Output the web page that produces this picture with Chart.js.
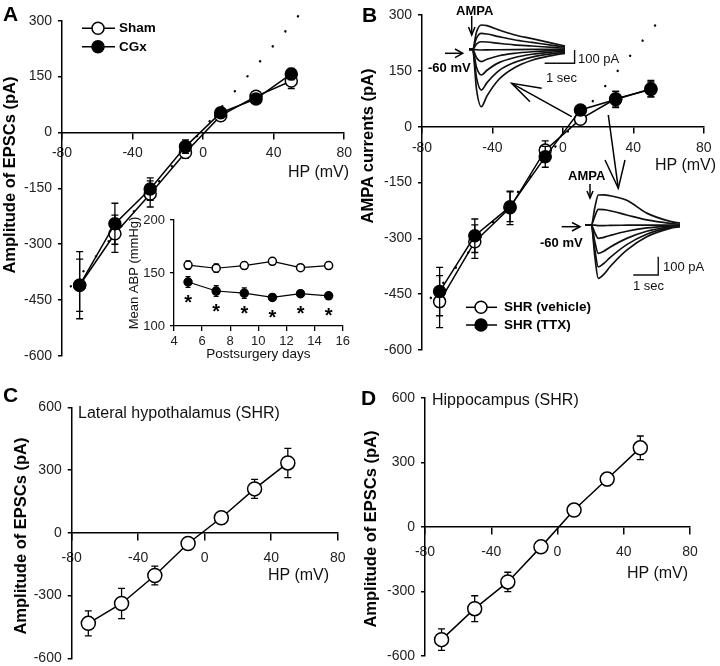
<!DOCTYPE html>
<html><head><meta charset="utf-8">
<script src="https://cdn.jsdelivr.net/npm/chart.js@4/dist/chart.umd.min.js"></script>
<style>
html,body{margin:0;padding:0;background:#fff;}
#root{position:relative;width:720px;height:666px;overflow:hidden;font-family:"Liberation Sans",Arial,sans-serif;background:#fff;}
canvas{position:absolute;}
.t{position:absolute;white-space:nowrap;color:#111;line-height:1;transform:translateY(-50%);}
.b{font-weight:bold;color:#000;}
.yt{position:absolute;white-space:nowrap;color:#000;font-weight:bold;font-size:16.5px;line-height:1;transform:translate(-50%,-50%) rotate(-90deg);}
svg.ov{position:absolute;left:0;top:0;pointer-events:none;}
</style>
</head><body>
<div id="root">
<canvas id="cA" width="360" height="400" style="left:0;top:0"></canvas>
<canvas id="cInset" width="240" height="165" style="left:120px;top:205px"></canvas>
<canvas id="cB" width="360" height="400" style="left:360px;top:0"></canvas>
<canvas id="cTop" width="132" height="93" style="left:454px;top:19px"></canvas>
<canvas id="cBot" width="128" height="101" style="left:572px;top:183px"></canvas>
<canvas id="cC" width="360" height="290" style="left:0;top:390px"></canvas>
<canvas id="cD" width="360" height="300" style="left:360px;top:380px"></canvas>

<svg class="ov" width="720" height="666">
 <g stroke="#000" stroke-width="1.5" fill="none">
  <line x1="82" y1="28.3" x2="115" y2="28.3"/>
  <circle cx="98" cy="28.3" r="6" fill="#fff"/>
  <line x1="82" y1="46.7" x2="115" y2="46.7"/>
  <circle cx="98" cy="46.7" r="6" fill="#000"/>
  <line x1="466" y1="307.3" x2="497" y2="307.3"/>
  <circle cx="481" cy="307.3" r="6" fill="#fff"/>
  <line x1="466" y1="325" x2="497" y2="325"/>
  <circle cx="481" cy="325" r="6" fill="#000"/>
  <polyline points="541.7,88.3 511.7,83.3 530,101.7"/>
  <line x1="511.7" y1="83.3" x2="571.7" y2="116.7"/>
  <polyline points="605,160 618.3,188.3 625,160"/>
  <line x1="608.3" y1="115" x2="618.3" y2="188.3"/>
  <line x1="445" y1="53.3" x2="462.7" y2="53.3"/>
  <polyline points="455,49 462.7,53.3 455,57.6"/>
  <line x1="561.7" y1="226.7" x2="580" y2="226.7"/>
  <polyline points="572,222.5 580,226.7 572,231"/>
  <line x1="471.7" y1="16" x2="471.7" y2="35"/>
  <polyline points="468.5,27 471.7,35 475,27"/>
  <line x1="590" y1="184" x2="590" y2="198"/>
  <polyline points="587,191 590,198 593,191"/>
 </g>
</svg>

<div class="t b" style="left:3px;top:13px;font-size:21px">A</div>
<div class="t b" style="left:362px;top:14px;font-size:21px">B</div>
<div class="t b" style="left:3px;top:394px;font-size:21px">C</div>
<div class="t b" style="left:361px;top:397px;font-size:21px">D</div>
<div class="yt" style="left:9px;top:174.5px">Amplitude of EPSCs (pA)</div>
<div class="yt" style="left:367px;top:145.5px">AMPA currents (pA)</div>
<div class="yt" style="left:19.5px;top:536px">Amplitude of EPSCs (pA)</div>
<div class="yt" style="left:370px;top:529px">Amplitude of EPSCs (pA)</div>
<div class="t" style="left:288px;top:172px;font-size:16px">HP (mV)</div>
<div class="t" style="left:655px;top:165px;font-size:16px">HP (mV)</div>
<div class="t" style="left:268px;top:575px;font-size:16px">HP (mV)</div>
<div class="t" style="left:627px;top:573px;font-size:16px">HP (mV)</div>
<div class="t" style="left:78px;top:413px;font-size:16px">Lateral hypothalamus (SHR)</div>
<div class="t" style="left:432px;top:400px;font-size:16px">Hippocampus (SHR)</div>
<div class="t b" style="left:119px;top:28px;font-size:13.5px">Sham</div>
<div class="t b" style="left:119px;top:47px;font-size:13.5px">CGx</div>
<div class="t b" style="left:504px;top:307px;font-size:13.5px">SHR (vehicle)</div>
<div class="t b" style="left:504px;top:325px;font-size:13.5px">SHR (TTX)</div>
<div class="t b" style="left:456px;top:10px;font-size:13px">AMPA</div>
<div class="t b" style="left:428px;top:67px;font-size:13px">-60 mV</div>
<div class="t" style="left:578px;top:58px;font-size:13px">100 pA</div>
<div class="t" style="left:546px;top:77px;font-size:13px">1 sec</div>
<div class="t b" style="left:568px;top:175px;font-size:13px">AMPA</div>
<div class="t b" style="left:540px;top:242px;font-size:13px">-60 mV</div>
<div class="t" style="left:663px;top:266px;font-size:13px">100 pA</div>
<div class="t" style="left:633px;top:285px;font-size:13px">1 sec</div>
</div>

<script>
// ---------- DATA ----------
const hpMv = [-70, -50, -30, -10, 10, 30, 50];
const xTicksMv = [-80, -40, 0, 40, 80];

// Panel A
const shamA = [-410, -272, -165, -54, 45, 97, 138];
const shamAErr = [70, 50, 35, 15, 8, 10, 20];
const cgxA = [-410, -245, -152, -38, 53, 90, 157];
const cgxAErr = [90, 55, 30, 18, 8, 12, 15];
const fitAX = [-75, 54];
const fitAY = [-413, 313];

// Panel A inset
const daysPost = [5, 7, 9, 11, 13, 15];
const shamABP = [157.5, 154.5, 157, 161, 155, 157];
const shamABPErr = [4, 4, 3, 3, 2, 3];
const cgxABP = [141.5, 133, 131, 127, 130.5, 128.5];
const cgxABPErr = [5, 5, 5, 3, 3, 2];

// Panel B
const vehicleB = [-470, -309, -218, -63, 20, 75, 100];
const vehicleBErr = [70, 45, 45, 25, 10, 20, 20];
const ttxB = [-443, -293, -215, -81, 45, 73, 102];
const ttxBErr = [65, 45, 40, 28, 10, 22, 22];
const fitBX = [-75, 55];
const fitBY = [-460, 287];

// Panel B traces (time in s, current in pA)
const topTimes = [0, 0.12, 0.25, 0.41, 0.6, 1.0, 1.5, 2.1, 2.8, 3.2];
const topTrace1 = [0, 0, -300, -431, -350, -225, -140, -82, -45, -30];
const topTrace2 = [0, 0, -213, -306, -250, -160, -100, -58, -32, -21];
const topTrace3 = [0, 0, -135, -193, -157, -100, -63, -37, -20, -13];
const topTrace4 = [0, 0, -64, -92, -75, -48, -30, -18, -10, -6];
const topTrace5 = [0, 0, -3, -5, -4, -3, -2, -1, 0, 0];
const topTrace6 = [0, 0, 40, 57, 55, 45, 34, 25, 14, 8];
const topTrace7 = [0, 0, 85, 120, 115, 95, 72, 52, 30, 16];
const topTrace8 = [0, 0, 130, 183, 178, 145, 110, 80, 45, 25];
const topBarT = [2.52, 3.52, 3.52];
const topBarPA = [-105, -105, -5];

const botTimes = [0, 0.25, 0.4, 0.53, 0.75, 1.0, 1.67, 2.47, 3.4, 3.8];
const botTrace1 = [0, 0, -180, -291, -270, -228, -137, -64, -18, -9];
const botTrace2 = [0, 0, -140, -228, -210, -178, -107, -50, -14, -7];
const botTrace3 = [0, 0, -95, -155, -143, -121, -73, -34, -10, -5];
const botTrace4 = [0, 0, -45, -73, -67, -57, -34, -16, -5, -2];
const botTrace5 = [0, 0, 0, -3, -3, -2, -1, 0, 0, 0];
const botTrace6 = [0, 0, 50, 85, 84, 78, 55, 28, 9, 4];
const botTrace7 = [0, 0, 100, 164, 165, 160, 135, 65, 20, 10];
const botBarT = [1.93, 2.93, 2.93];
const botBarPA = [-273, -273, -173];

// Panel C
const lateralC = [-433, -338, -204, -51, 72, 210, 334];
const lateralCErr = [60, 72, 45, 12, 10, 45, 70];
// Panel D
const hippoD = [-524, -380, -256, -93, 78, 222, 367];
const hippoDErr = [50, 60, 45, 15, 15, 30, 55];

// ---------- HELPERS ----------
const FONT = "'Liberation Sans', Arial, sans-serif";
const pts = (xs, ys) => xs.map((x, i) => ({x: x, y: ys[i]}));

const errorBars = {
  id: 'errorBars',
  beforeDatasetDraw(chart, args) {
    const ds = chart.data.datasets[args.index];
    if (!ds.errorBars) return;
    const ys = chart.scales.y;
    const ctx = chart.ctx;
    const cap = ds.capHalf || 3.5;
    ctx.save();
    ctx.strokeStyle = '#000';
    ctx.lineWidth = 1.3;
    args.meta.data.forEach((p, i) => {
      const v = ds.data[i].y, e = ds.errorBars[i];
      const y1 = ys.getPixelForValue(v - e), y2 = ys.getPixelForValue(v + e);
      ctx.beginPath();
      ctx.moveTo(p.x, y1); ctx.lineTo(p.x, y2);
      ctx.moveTo(p.x - cap, y1); ctx.lineTo(p.x + cap, y1);
      ctx.moveTo(p.x - cap, y2); ctx.lineTo(p.x + cap, y2);
      ctx.stroke();
    });
    ctx.restore();
  }
};

const asterisks = {
  id: 'asterisks',
  afterDatasetsDraw(chart) {
    const idx = chart.data.datasets.findIndex(d => d.starBelow);
    if (idx < 0) return;
    const ctx = chart.ctx;
    ctx.save();
    ctx.fillStyle = '#000';
    ctx.font = 'bold 20px ' + FONT;
    ctx.textAlign = 'center';
    ctx.textBaseline = 'alphabetic';
    chart.getDatasetMeta(idx).data.forEach(p => {
      ctx.fillText('*', p.x, p.y + 15 + 11.5);
    });
    ctx.restore();
  }
};

function series(xs, ys, errs, filled, order, radius) {
  return {
    data: pts(xs, ys), errorBars: errs, showLine: true, order: order,
    borderColor: '#000', borderWidth: 1.5,
    pointRadius: radius, pointBorderWidth: 1.5, pointBorderColor: '#000',
    pointBackgroundColor: filled ? '#000' : '#fff', clip: false
  };
}
function fitLine(xs, ys) {
  return {
    data: pts(xs, ys), showLine: true, order: 5, borderColor: '#000',
    borderWidth: 2.4, borderDash: [0.1, 19.5], borderCapStyle: 'round',
    pointRadius: 0, clip: false
  };
}

function ivChart(id, o) {
  return new Chart(document.getElementById(id), {
    type: 'scatter',
    data: {datasets: o.datasets},
    plugins: [errorBars],
    options: {
      responsive: false, animation: false, events: [],
      layout: {padding: o.pad},
      plugins: {legend: {display: false}, tooltip: {enabled: false}},
      scales: {
        x: {
          type: 'linear', position: {y: 0}, min: -80, max: 80,
          afterBuildTicks: s => { s.ticks = xTicksMv.map(v => ({value: v})); },
          ticks: {font: {size: 14, family: FONT, lineHeight: 1}, color: '#222',
                  padding: o.xPad, maxRotation: 0, autoSkip: false},
          grid: {drawOnChartArea: false, drawTicks: true, tickLength: o.xTl, color: '#000', lineWidth: 1.5},
          border: {display: true, color: '#000', width: 1.5}
        },
        y: {
          type: 'linear', position: 'left', min: o.yMin, max: o.yMax,
          afterBuildTicks: s => { s.ticks = o.yTicks.map(v => ({value: v})); },
          ticks: {font: {size: 14, family: FONT, lineHeight: 1}, color: '#222', padding: 6},
          grid: {drawOnChartArea: false, drawTicks: true, tickLength: 4, color: '#000', lineWidth: 1.5},
          border: {display: true, color: '#000', width: 1.5},
          afterFit: s => { s.width = o.yW; }
        }
      }
    }
  });
}

// ---------- PANEL A ----------
ivChart('cA', {
  datasets: [
    series(hpMv, cgxA, cgxAErr, true, 1, 6),
    series(hpMv, shamA, shamAErr, false, 2, 6),
    fitLine(fitAX, fitAY)
  ],
  pad: {left: 0, top: 20.7, right: 10, bottom: 44},
  yMin: -600, yMax: 300, yTicks: [-600, -450, -300, -150, 0, 150, 300],
  yW: 62, xPad: 8, xTl: 6
});

// ---------- INSET ----------
new Chart(document.getElementById('cInset'), {
  type: 'scatter',
  data: {datasets: [
    Object.assign(series(daysPost, cgxABP, cgxABPErr, true, 1, 4), {starBelow: true, borderWidth: 1.2, capHalf: 2.5}),
    Object.assign(series(daysPost, shamABP, shamABPErr, false, 2, 4), {borderWidth: 1.2, capHalf: 2.5})
  ]},
  plugins: [errorBars, asterisks],
  options: {
    responsive: false, animation: false, events: [],
    layout: {padding: {left: 0, top: 15, right: 17.3, bottom: 0}},
    plugins: {legend: {display: false}, tooltip: {enabled: false}},
    scales: {
      x: {
        type: 'linear', position: 'bottom', min: 4, max: 16,
        ticks: {stepSize: 2, font: {size: 13, family: FONT, lineHeight: 1}, color: '#222', padding: 4, maxRotation: 0},
        grid: {drawOnChartArea: false, drawTicks: true, tickLength: 5, color: '#000', lineWidth: 1.3},
        border: {display: true, color: '#000', width: 1.3},
        title: {display: true, text: 'Postsurgery days', color: '#111',
                font: {size: 13.5, family: FONT, lineHeight: 1.2}, padding: {top: 0, bottom: 8}},
        afterFit: s => { s.height = 44; }
      },
      y: {
        type: 'linear', position: 'left', min: 100, max: 200,
        ticks: {stepSize: 50, font: {size: 13, family: FONT, lineHeight: 1}, color: '#222', padding: 5},
        grid: {drawOnChartArea: false, drawTicks: true, tickLength: 4, color: '#000', lineWidth: 1.3},
        border: {display: true, color: '#000', width: 1.3},
        title: {display: true, text: 'Mean ABP (mmHg)', color: '#111',
                font: {size: 13, family: FONT, lineHeight: 1.2}, padding: {top: 7, bottom: 0}},
        afterFit: s => { s.width = 54; }
      }
    }
  }
});

// ---------- PANEL B ----------
ivChart('cB', {
  datasets: [
    series(hpMv, ttxB, ttxBErr, true, 1, 6),
    series(hpMv, vehicleB, vehicleBErr, false, 2, 6),
    fitLine(fitBX, fitBY)
  ],
  pad: {left: 0, top: 15, right: 10, bottom: 50},
  yMin: -600, yMax: 300, yTicks: [-600, -450, -300, -150, 0, 150, 300],
  yW: 62, xPad: 8.5, xTl: 6
});

function traceChart(id, times, traces, barT, barPA, xMin, xMax, yMin, yMax) {
  const datasets = traces.map(tr => ({
    data: pts(times, tr), showLine: true, borderColor: '#111', borderWidth: 1.7,
    pointRadius: 0, cubicInterpolationMode: 'monotone'
  }));
  datasets.push({data: pts(barT, barPA), showLine: true, borderColor: '#111', borderWidth: 1.4, pointRadius: 0});
  new Chart(document.getElementById(id), {
    type: 'scatter',
    data: {datasets},
    options: {
      responsive: false, animation: false, events: [],
      layout: {padding: 0},
      plugins: {legend: {display: false}, tooltip: {enabled: false}},
      scales: {
        x: {type: 'linear', display: false, min: xMin, max: xMax},
        y: {type: 'linear', display: false, min: yMin, max: yMax}
      }
    }
  });
}
traceChart('cTop', topTimes,
  [topTrace1, topTrace2, topTrace3, topTrace4, topTrace5, topTrace6, topTrace7, topTrace8],
  topBarT, topBarPA, -0.5, 3.9, -471, 228);
traceChart('cBot', botTimes,
  [botTrace1, botTrace2, botTrace3, botTrace4, botTrace5, botTrace6, botTrace7],
  botBarT, botBarPA, -0.52, 4.6, -322, 229.5);

// ---------- PANEL C ----------
ivChart('cC', {
  datasets: [series(hpMv, lateralC, lateralCErr, false, 1, 7)],
  pad: {left: 0, top: 17.3, right: 22.3, bottom: 21.7},
  yMin: -600, yMax: 600, yTicks: [-600, -300, 0, 300, 600],
  yW: 71.7, xPad: 11, xTl: 7
});

// ---------- PANEL D ----------
ivChart('cD', {
  datasets: [series(hpMv, hippoD, hippoDErr, false, 1, 7)],
  pad: {left: 0, top: 17.7, right: 30, bottom: 24},
  yMin: -600, yMax: 600, yTicks: [-600, -300, 0, 300, 600],
  yW: 65, xPad: 11, xTl: 7
});
</script>
</body></html>
